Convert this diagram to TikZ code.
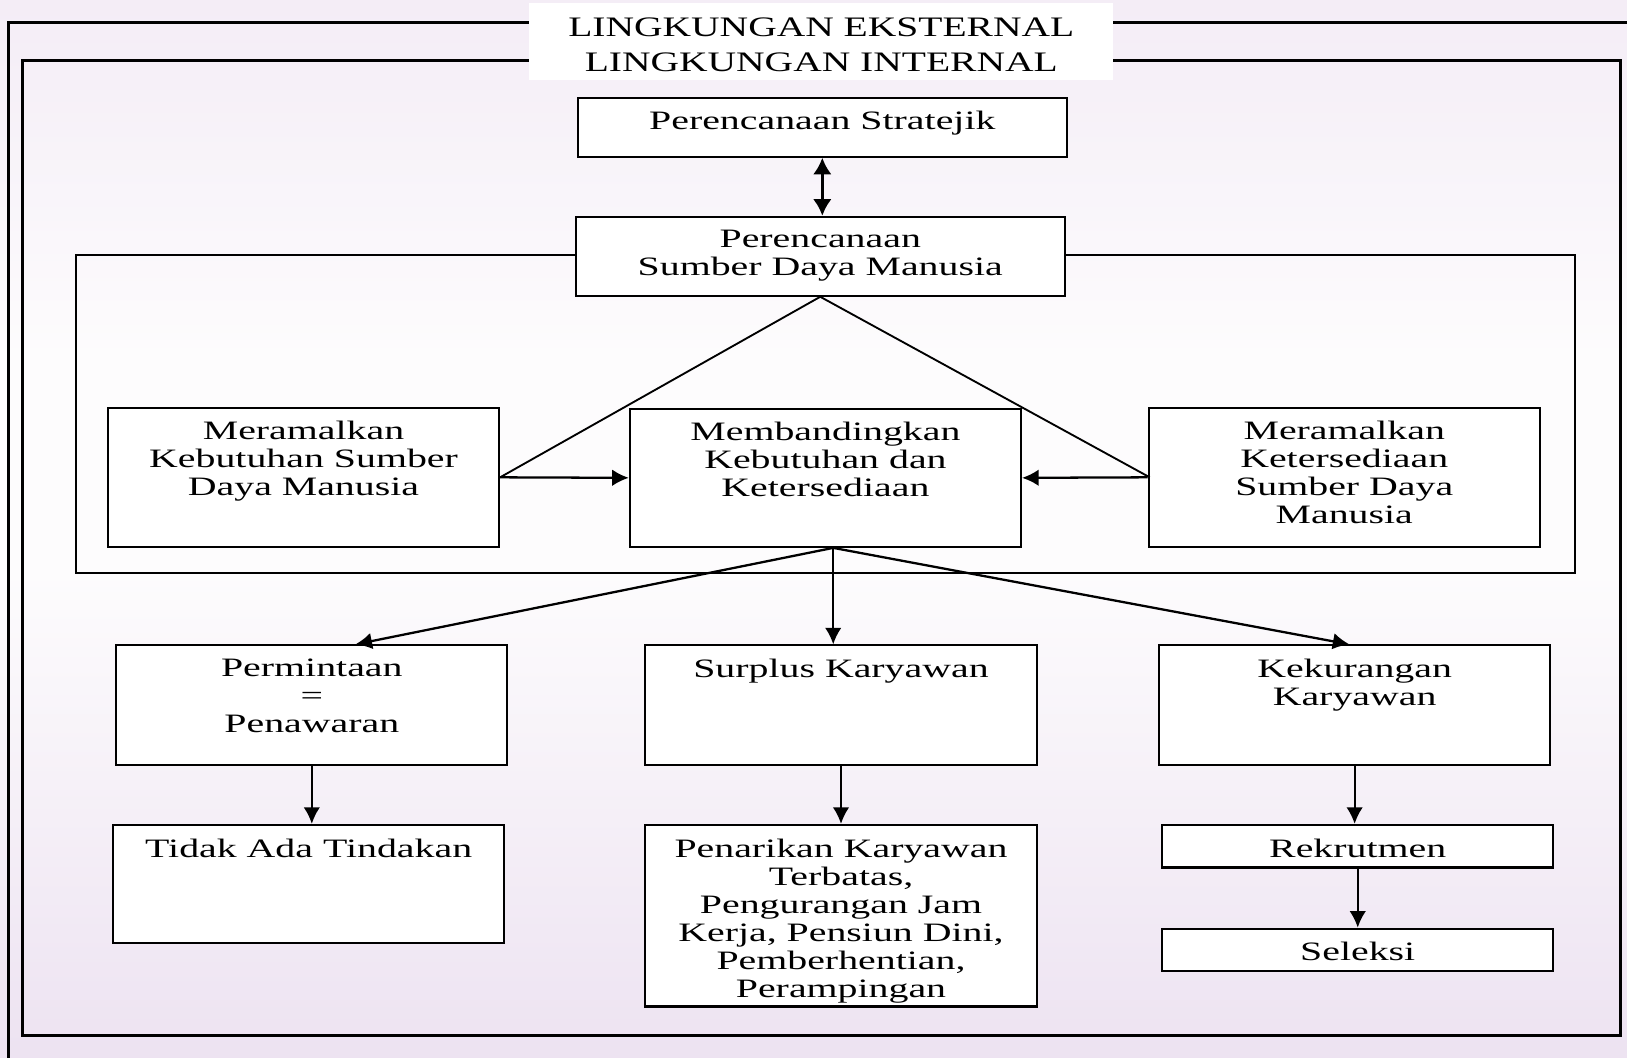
\documentclass[tikz,border=0pt]{standalone}
\usepackage{fontspec}
\setmainfont[FakeStretch=1.4]{Liberation Serif}
\newfontfamily\boxfont[FakeStretch=1.5]{Liberation Serif}
\usetikzlibrary{arrows.meta,calc}
\definecolor{lavtop}{HTML}{EDE1F1}
\definecolor{lavmid}{HTML}{FDFCFD}
\definecolor{lavbot}{HTML}{EADEEF}
\pgfdeclareverticalshading{bgshade}{100bp}{color(0bp)=(lavbot); color(21bp)=(lavbot); color(48bp)=(lavmid); color(58bp)=(lavmid); color(88bp)=(lavtop); color(100bp)=(lavtop)}
\newcommand\tbox[3]{\parbox[c][#2pt][t]{#1pt}{\centering\boxfont\fontsize{12.8}{13.5}\selectfont\vspace{6.6pt}#3\par}}
\tikzset{
  bx/.style={draw, line width=1pt, fill=white, inner sep=0pt},
  frame/.style={line width=1.4pt},
  arr/.style={line width=1.1pt, -{Latex[length=8pt,width=8pt]}},
  ln/.style={line width=0.9pt}
}
\begin{document}
\begin{tikzpicture}[x=0.5pt,y=-0.5pt]
\useasboundingbox (0,0) rectangle (1568,1019);
\clip (0,0) rectangle (1568,1019);
\shade[shading=bgshade] (0,0) rectangle (1568,1019);
% frames
\draw[frame] (8,22) rectangle (1580,1030);
\draw[frame] (22,58) rectangle (1562,998);
\node[fill=white, inner sep=0pt] (hdr) at (791.5,40) {\parbox[c][37pt][t]{281.5pt}{\centering\fontsize{13.6}{17}\selectfont\vspace{7pt}LINGKUNGAN EKSTERNAL\\LINGKUNGAN INTERNAL\par}};
% HR area box
\draw[ln] (73,246) rectangle (1518,552);
% boxes
\node[bx] (PS) at (792.5,122.5) {\tbox{235.5}{28.5}{Perencanaan Stratejik}};
\node[bx] (SDM) at (790.5,247) {\tbox{235.5}{38}{Perencanaan\\Sumber Daya Manusia}};
\node[bx] (MK) at (292.5,460) {\tbox{188.5}{67}{Meramalkan\\Kebutuhan Sumber\\Daya Manusia}};
\node[bx] (MB) at (795.5,460.5) {\tbox{188.5}{66.5}{Membandingkan\\Kebutuhan dan\\Ketersediaan}};
\node[bx] (MKS) at (1295.5,460) {\tbox{188.5}{67}{Meramalkan\\Ketersediaan\\Sumber Daya\\Manusia}};
\node[bx] (PP) at (300.5,679.5) {\tbox{188.5}{57.5}{Permintaan\\=\\Penawaran}};
\node[bx] (SK) at (810.5,679.5) {\tbox{188.5}{57.5}{Surplus Karyawan}};
\node[bx] (KK) at (1305.5,679.5) {\tbox{188.5}{57.5}{Kekurangan\\Karyawan}};
\node[bx] (TAT) at (297.5,852) {\tbox{188.5}{57}{Tidak Ada Tindakan}};
\node[bx] (PK) at (810.5,882.5) {\tbox{188.5}{87.5}{Penarikan Karyawan\\Terbatas,\\Pengurangan Jam\\Kerja, Pensiun Dini,\\Pemberhentian,\\Perampingan}};
\node[bx] (RK) at (1308.5,815.5) {\tbox{188.5}{20.5}{Rekrutmen}};
\node[bx] (SL) at (1308.5,915.5) {\tbox{188.5}{20.5}{Seleksi}};
% connectors
\draw[line width=1.6pt, {Latex[length=8pt,width=9pt]}-{Latex[length=8pt,width=9pt]}] (PS.south) -- (PS.south|-SDM.north);
\draw[ln] (MK.east) -- (SDM.south) -- ($(MKS.west)+(2,0)$);
\draw[arr] (MK.east) -- (MB.west);
\draw[arr] (MKS.west) -- (MB.east);
\coordinate (fork) at (803,528);
\draw[arr] (fork) -- ($(PP.north)+(42,0)$);
\draw[arr] (fork) -- (fork|-SK.north);
\draw[arr] (fork) -- ($(KK.north)+(-5,0)$);
\draw[arr] (PP.south) -- (PP.south|-TAT.north);
\draw[arr] (SK.south) -- (SK.south|-PK.north);
\draw[arr] (KK.south) -- (KK.south|-RK.north);
\draw[arr] (RK.south) -- (SL.north);
\end{tikzpicture}
\end{document}
